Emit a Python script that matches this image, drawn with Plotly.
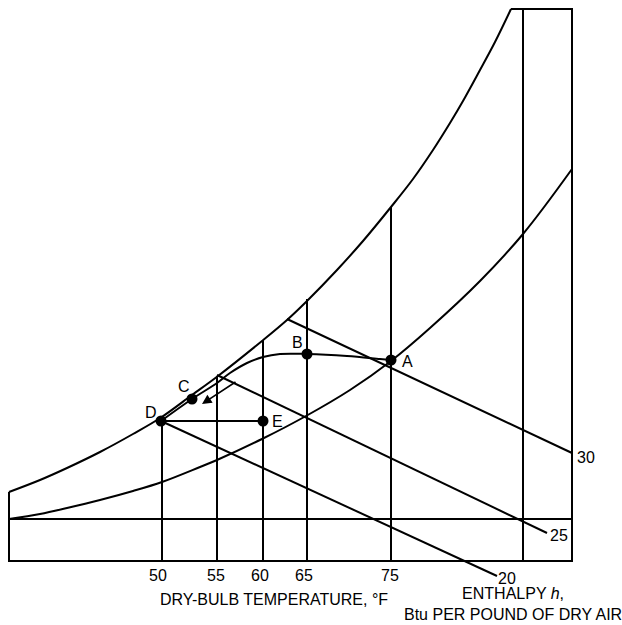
import plotly.graph_objects as go

# Schematic chart coordinates (x to the right, y downward as on the chart sheet)
# Saturation curve (upper boundary)
sat_x = [9, 40, 67, 100, 133, 161, 192, 218, 262, 287, 307, 337, 363, 391, 413, 433, 450, 463, 480, 495, 511]
sat_y = [492, 480, 468, 452, 434, 417.5, 395, 376, 341, 320, 301, 270, 241, 207, 179, 150, 123, 101, 70, 42, 9]

# Relative-humidity curve (lower)
rh_x = [9, 40, 67, 100, 133, 162, 200, 217, 262, 306, 350, 391, 430, 480, 523, 572]
rh_y = [519, 514, 508, 500, 491, 482, 467, 460, 439, 416, 390, 361, 328, 281, 234, 169]

# Dry-bulb temperature lines
temp_labels = ["50", "55", "60", "65", "75"]
temp_label_x = [158, 216, 260, 304, 390]
temp_x = [162, 217, 263, 307, 391]
temp_top = [420, 376, 340, 299, 207]

# Enthalpy lines
enth_labels = ["20", "25", "30"]
enth_x0 = [161, 217, 287]
enth_y0 = [421, 375, 319]
enth_x1 = [497, 547, 572]
enth_y1 = [576, 533, 453]
enth_lab_x = [507, 559, 586]
enth_lab_y = [578, 535, 457]

# Process path A -> B -> C -> D
proc_x = [391, 380, 347, 307, 280, 263, 247, 230, 217, 192, 161]
proc_y = [360, 359, 356, 354, 354, 357, 363, 373, 383, 399, 421]

# State points
pt_names = ["A", "B", "C", "D", "E"]
pt_x = [391, 307, 192, 161, 263]
pt_y = [360, 354, 399, 421, 421]
lab_x = [407, 297, 184, 151, 277]
lab_y = [361, 342, 386, 412, 421]

# Frame
frame_x = [9, 9, 572, 572, 511]
frame_y = [492, 561, 561, 9, 9]
hline_x = [9, 572]
hline_y = [519, 519]
right_v_x = [523, 523]
right_v_y = [9, 561]

# Arrow
arrow_from = (237, 381)
arrow_to = (202, 404)

FONT = "Arial, Liberation Sans, Helvetica, sans-serif"
LW = 2
W, H = 622, 625
fig = go.Figure()

def line(x, y, shape="linear", w=LW):
    fig.add_trace(go.Scatter(x=x, y=y, mode="lines", line=dict(color="black", width=w, shape=shape),
                             hoverinfo="skip", showlegend=False))

line(frame_x, frame_y)
line(sat_x, sat_y, "spline")
line(rh_x, rh_y, "spline")
line(hline_x, hline_y)
line(right_v_x, right_v_y)
for x, t in zip(temp_x, temp_top):
    line([x, x], [t, 561])
for x0, y0, x1, y1 in zip(enth_x0, enth_y0, enth_x1, enth_y1):
    line([x0, x1], [y0, y1])
line(proc_x, proc_y, "spline")
line([pt_x[3], pt_x[4]], [pt_y[3], pt_y[4]])

fig.add_trace(go.Scatter(x=pt_x, y=pt_y, mode="markers", marker=dict(color="black", size=11),
                         hoverinfo="skip", showlegend=False))

tfont = dict(family=FONT, size=16, color="black")
for n, x, y in zip(pt_names, lab_x, lab_y):
    fig.add_annotation(x=x, y=y, text=n, showarrow=False, font=tfont, xanchor="center", yanchor="middle",
                       borderpad=0)
for n, x, y in zip(enth_labels, enth_lab_x, enth_lab_y):
    fig.add_annotation(x=x, y=y, text=n, showarrow=False, font=tfont, xanchor="center", yanchor="middle",
                       borderpad=0)

fig.add_annotation(x=arrow_to[0], y=arrow_to[1], ax=arrow_from[0], ay=arrow_from[1], axref="x", ayref="y",
                   xref="x", yref="y", showarrow=True, arrowhead=2, arrowsize=1.2, arrowwidth=1.6,
                   arrowcolor="black", text="")

fig.add_annotation(x=274, y=599, text="DRY-BULB TEMPERATURE, °F", showarrow=False,
                   font=tfont, xanchor="center", yanchor="middle", borderpad=0)
fig.add_annotation(x=513, y=604, text="ENTHALPY <i>h</i>,<br>Btu PER POUND OF DRY AIR", showarrow=False,
                   font=tfont, xanchor="center", yanchor="middle", align="center", borderpad=0)

fig.update_layout(
    width=W, height=H, margin=dict(l=0, r=0, t=0, b=0),
    paper_bgcolor="white", plot_bgcolor="white",
    xaxis=dict(range=[0, W], showgrid=False, zeroline=False, showline=False,
               tickvals=temp_label_x, ticktext=temp_labels, ticks="", anchor="free",
               position=(H - 561) / H, tickfont=tfont, ticklabelstandoff=3,
               fixedrange=True),
    yaxis=dict(range=[H, 0], showgrid=False, zeroline=False, showline=False, showticklabels=False,
               domain=[0, 1], fixedrange=True),
)

# remove the default 8 px page margin so the figure sits at the window's corner
fig.write_html("out.html",
               config={"displayModeBar": False, "staticPlot": True},
               post_script="document.body.style.margin='0px';document.body.style.overflow='hidden';")
